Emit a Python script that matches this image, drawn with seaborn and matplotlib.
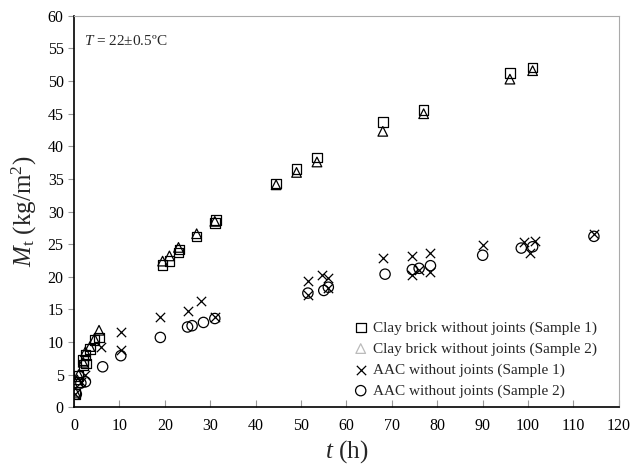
import matplotlib
matplotlib.use("Agg")
import matplotlib.pyplot as plt
import seaborn as sns
import pandas as pd

# ---- data ----
brick1_t = [0.3, 0.7, 1.0, 2.0, 2.1, 2.5, 2.6, 3.5, 4.5, 5.5, 19.5, 21.0, 23.0, 23.2, 27.0, 31.0, 31.2,
            44.5, 49.0, 53.5, 68.0, 77.0, 96.0, 101.0]
brick1_M = [2.0, 3.9, 4.8, 7.2, 6.5, 8.0, 6.7, 8.9, 10.3, 10.7, 21.8, 22.4, 23.7, 24.2, 26.2, 28.2, 28.7,
            34.3, 36.5, 38.3, 43.7, 45.6, 51.2, 52.1]
brick2_t = [0.3, 0.7, 1.0, 2.0, 2.5, 3.5, 4.5, 5.5, 19.5, 21.0, 23.0, 27.0, 31.0,
            44.5, 49.0, 53.5, 68.0, 77.0, 96.0, 101.0]
brick2_M = [2.3, 4.2, 5.0, 6.9, 8.5, 9.3, 10.5, 11.8, 22.4, 23.2, 24.5, 26.6, 28.5,
            34.1, 36.0, 37.6, 42.3, 45.0, 50.3, 51.6]
aac1_t = [0.3, 1.5, 2.5, 6.0, 10.3, 10.3, 19.0, 25.0, 28.0, 31.0, 51.5, 51.5, 54.5, 56.0, 56.0,
          68.0, 74.5, 74.5, 76.0, 78.5, 78.5, 90.0, 99.0, 100.5, 101.5, 114.5]
aac1_M = [2.1, 3.9, 5.0, 9.3, 11.5, 8.8, 13.8, 14.7, 16.3, 13.8, 19.3, 17.2, 20.3, 19.8, 18.3,
          22.9, 23.2, 20.3, 21.0, 23.7, 20.7, 24.8, 25.4, 23.7, 25.5, 26.5]
aac2_t = [0.5, 1.5, 2.5, 6.3, 10.3, 19.0, 25.0, 26.0, 28.5, 31.0, 51.5, 55.0, 56.0,
          68.5, 74.5, 76.0, 78.5, 90.0, 98.5, 101.0, 114.5]
aac2_M = [2.0, 3.7, 3.9, 6.2, 7.9, 10.7, 12.3, 12.5, 13.0, 13.6, 17.5, 17.9, 18.4,
          20.4, 21.1, 21.3, 21.7, 23.3, 24.4, 24.6, 26.2]
labels = ["Clay brick without joints (Sample 1)", "Clay brick without joints (Sample 2)",
          "AAC without joints (Sample 1)", "AAC without joints (Sample 2)"]
x_ticks = list(range(0, 121, 10))
y_ticks = list(range(0, 61, 5))

sns.set_theme(style="white")
plt.rcParams['font.family'] = ['Liberation Serif', 'DejaVu Serif']
plt.rcParams['mathtext.fontset'] = 'custom'
plt.rcParams['mathtext.rm'] = 'Liberation Serif'
plt.rcParams['mathtext.it'] = 'Liberation Serif:italic'

fig = plt.figure(figsize=(6.44, 4.67), dpi=100)
ax = fig.add_axes([0.115, 0.128, 0.846, 0.838])

series = [(brick1_t, brick1_M, 's', labels[0]),
          (brick2_t, brick2_M, '^', labels[1]),
          (aac1_t, aac1_M, 'x', labels[2]),
          (aac2_t, aac2_M, 'o', labels[3])]
for t, m, mk, lab in series:
    df = pd.DataFrame({"t": t, "M": m})
    if mk == 'x':
        sns.scatterplot(data=df, x="t", y="M", marker='x', color='black', s=45,
                        linewidth=0.9, ax=ax, label=lab)
    else:
        sns.scatterplot(data=df, x="t", y="M", marker=mk, facecolor='none', edgecolor='black',
                        s=48 if mk != 'o' else 55, linewidth=0.9, ax=ax, label=lab)

ax.set_xlim(0, 120)
ax.set_ylim(0, 60)
ax.set_xticks(x_ticks)
ax.set_yticks(y_ticks)
ax.tick_params(axis='both', labelsize=11.5, colors='black')
ax.tick_params(axis='x', direction='in', length=5, color='#999999', width=0.8, pad=8)
ax.tick_params(axis='y', direction='out', length=4, color='#999999', width=0.8, pad=3.5)
ax.tick_params(left=True, bottom=True)
for s in ['left', 'bottom']:
    ax.spines[s].set_color('black')
    ax.spines[s].set_linewidth(1.2)
for s in ['top', 'right']:
    ax.spines[s].set_color('#aaaaaa')
    ax.spines[s].set_linewidth(0.8)

ax.set_xlabel("$t$ (h)", fontsize=18, labelpad=3)
ax.set_ylabel("$M_\\mathrm{t}$ (kg/m$^2$)", fontsize=18, labelpad=6)
ax.text(0.018, 0.935, "$T$ = 22±0.5ºC", transform=ax.transAxes, fontsize=11, va='center')

leg = ax.legend(loc='lower right', bbox_to_anchor=(1 - 22 / 546, 0.024), frameon=False, fontsize=11,
                handletextpad=0.3, labelspacing=0.47, handlelength=1.0, borderaxespad=0, borderpad=0)
try:
    hs = leg.legend_handles
except AttributeError:
    hs = leg.legendHandles
hs[1].set_edgecolor('#bbbbbb')

fig.savefig("out.png", dpi=100)
